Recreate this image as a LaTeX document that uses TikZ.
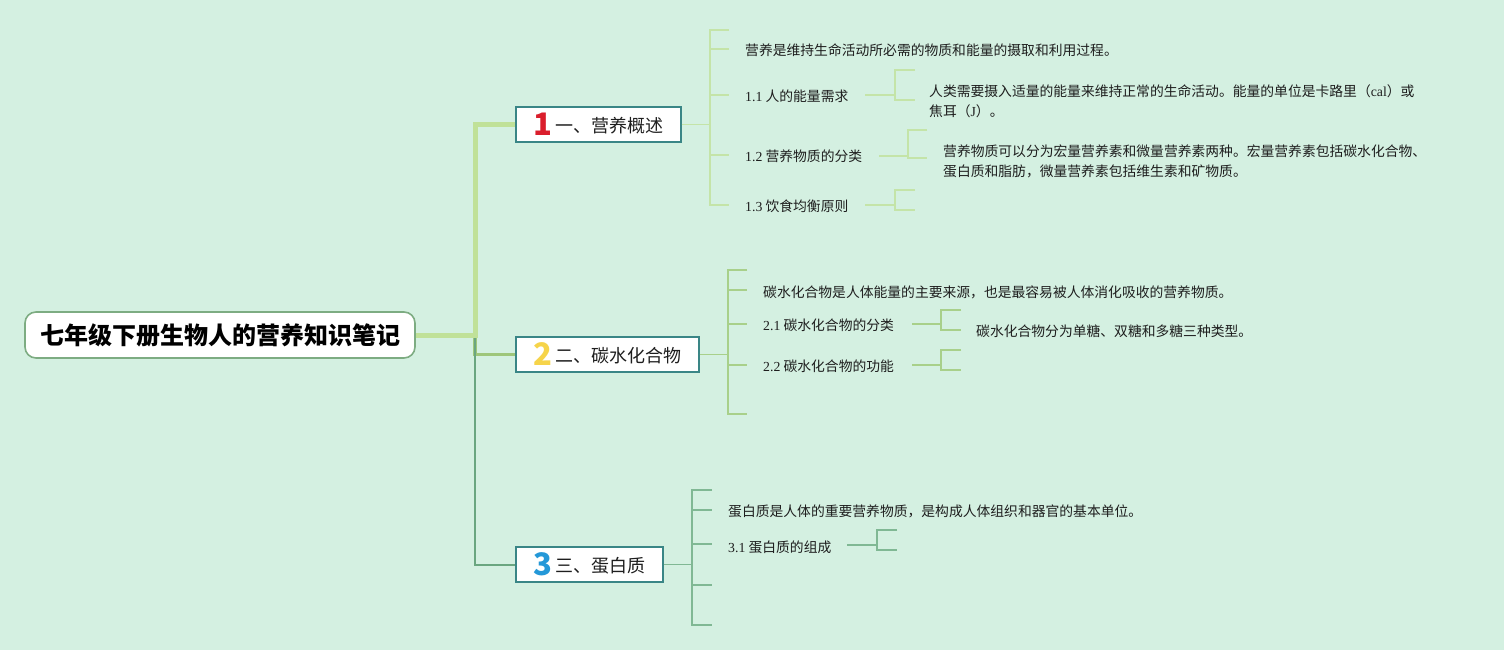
\documentclass[tikz,border=0pt]{standalone}
\usepackage{fontspec}
\setmainfont{Noto Sans CJK SC}
\newfontfamily\latf{Liberation Serif}
\newcommand\mylat[1]{{\latf #1}}
\definecolor{bgc}{RGB}{212,240,225}
\definecolor{rootc}{RGB}{125,172,130}
\definecolor{boxc}{RGB}{58,134,134}
\definecolor{m1c}{RGB}{192,225,152}
\definecolor{m2c}{RGB}{158,198,122}
\definecolor{m3c}{RGB}{106,166,128}
\definecolor{s1c}{RGB}{196,228,168}
\definecolor{s2c}{RGB}{168,208,138}
\definecolor{s3c}{RGB}{128,184,148}
\definecolor{n1c}{RGB}{218,30,44}
\definecolor{n2c}{RGB}{246,212,74}
\definecolor{n3c}{RGB}{36,152,216}
\definecolor{txtc}{RGB}{30,30,30}
\newcommand\mybrk[8]{%
  \coordinate (#1s) at (#2,#5);
  \coordinate (#1j) at (#3,#5);
  \coordinate (#1t) at (#3,#6);
  \coordinate (#1b) at (#3,#7);
  \coordinate (#1te) at (#4,#6);
  \coordinate (#1be) at (#4,#7);
  \draw[#8] (#1s) -- (#1j);
  \draw[#8] (#1te) -- (#1t) -- (#1b) -- (#1be);
}
\tikzset{
  rootbox/.style={draw=rootc, line width=1.6pt, fill=white, rounded corners=11pt,
    minimum width=390pt, minimum height=46pt, inner sep=0pt,
    font=\bfseries\fontsize{24}{24}\selectfont, text=black},
  brbox/.style={draw=boxc, line width=1.6pt, fill=white, anchor=west,
    minimum height=35pt, inner sep=0pt, font=\fontsize{18}{18}\selectfont, text=txtc},
  txt/.style={anchor=west, inner sep=0pt, font=\fontsize{13.8}{20}\selectfont, text=txtc, align=left},
  m1/.style={draw=m1c, line width=5pt},
  m2/.style={draw=m2c, line width=3.5pt},
  m3/.style={draw=m3c, line width=2pt},
  s1/.style={draw=s1c, line width=1.5pt},
  s2/.style={draw=s2c, line width=1.5pt},
  s3/.style={draw=s3c, line width=1.5pt},
}
\begin{document}
\begin{tikzpicture}[x=1pt,y=-1pt]
\fill[bgc] (0,0) rectangle (1504,650);
\useasboundingbox (0,0) rectangle (1504,650);

% main nodes
\node[rootbox] (root) at (220,335) {七年级下册生物人的营养知识笔记};
\node[brbox, minimum width=165pt] (b1) at (515,124.5)
  {\raisebox{-3pt}{\textcolor{n1c}{\bfseries\fontsize{31}{31}\selectfont 1}}\hspace{3pt}一、营养概述};
\node[brbox, minimum width=183pt] (b2) at (515,354.5)
  {\raisebox{-3pt}{\textcolor{n2c}{\bfseries\fontsize{31}{31}\selectfont 2}}\hspace{3pt}二、碳水化合物};
\node[brbox, minimum width=147pt] (b3) at (515,564.5)
  {\raisebox{-3pt}{\textcolor{n3c}{\bfseries\fontsize{31}{31}\selectfont 3}}\hspace{3pt}三、蛋白质};

% main connectors
\coordinate (jm) at (475,335);
\draw[m2] (root.east) -- (jm) |- (b2.west);
\draw[m3] (root.east) -- (jm) |- (b3.west);
\draw[m1] (root.east) -- (jm) |- (b1.west);

% branch 1 fan
\coordinate (f1j) at (710,124.5);
\draw[s1] (b1.east) -- (f1j);
\coordinate (f1t) at (710,30);
\coordinate (f1b) at (710,205);
\coordinate (f1te) at (729,30);
\coordinate (f1be) at (729,205);
\draw[s1] (f1te) -- (f1t) -- (f1b) -- (f1be);
\foreach \n/\y in {a/49,b/95,c/155}{
  \coordinate (f1\n s) at (710,\y);
  \coordinate (f1\n e) at (729,\y);
  \draw[s1] (f1\n s) -- (f1\n e);
}
\node[txt] (t10) at (745,50) {营养是维持生命活动所必需的物质和能量的摄取和利用过程。};
\node[txt] (t11) at (745,96) {\mylat{1.1} 人的能量需求};
\node[txt] (t12) at (745,156) {\mylat{1.2} 营养物质的分类};
\node[txt] (t13) at (745,206) {\mylat{1.3} 饮食均衡原则};
\mybrk{k11}{865}{895}{915}{95}{70}{100}{s1}
\mybrk{k12}{879}{908}{927}{156}{130}{158}{s1}
\mybrk{k13}{865}{895}{915}{205}{190}{210}{s1}
\node[txt] (t11a) at (929,101) {人类需要摄入适量的能量来维持正常的生命活动。能量的单位是卡路里（\mylat{cal}）或\\焦耳（\mylat{J}）。};
\node[txt] (t12a) at (943,161) {营养物质可以分为宏量营养素和微量营养素两种。宏量营养素包括碳水化合物、\\蛋白质和脂肪，微量营养素包括维生素和矿物质。};

% branch 2 fan
\coordinate (f2j) at (728,354.5);
\draw[s2] (b2.east) -- (f2j);
\coordinate (f2t) at (728,270);
\coordinate (f2b) at (728,414);
\coordinate (f2te) at (747,270);
\coordinate (f2be) at (747,414);
\draw[s2] (f2te) -- (f2t) -- (f2b) -- (f2be);
\foreach \n/\y in {a/290,b/324,c/365}{
  \coordinate (f2\n s) at (728,\y);
  \coordinate (f2\n e) at (747,\y);
  \draw[s2] (f2\n s) -- (f2\n e);
}
\node[txt] (t20) at (763,292) {碳水化合物是人体能量的主要来源，也是最容易被人体消化吸收的营养物质。};
\node[txt] (t21) at (763,325) {\mylat{2.1} 碳水化合物的分类};
\node[txt] (t22) at (763,366) {\mylat{2.2} 碳水化合物的功能};
\mybrk{k21}{912}{941}{961}{324}{310}{330}{s2}
\mybrk{k22}{912}{941}{961}{365}{350}{370}{s2}
\node[txt] (t21a) at (976,331) {碳水化合物分为单糖、双糖和多糖三种类型。};

% branch 3 fan
\coordinate (f3j) at (692,564.5);
\draw[s3] (b3.east) -- (f3j);
\coordinate (f3t) at (692,490);
\coordinate (f3b) at (692,625);
\coordinate (f3te) at (712,490);
\coordinate (f3be) at (712,625);
\draw[s3] (f3te) -- (f3t) -- (f3b) -- (f3be);
\foreach \n/\y in {a/510,b/544,c/585}{
  \coordinate (f3\n s) at (692,\y);
  \coordinate (f3\n e) at (712,\y);
  \draw[s3] (f3\n s) -- (f3\n e);
}
\node[txt] (t30) at (728,511) {蛋白质是人体的重要营养物质，是构成人体组织和器官的基本单位。};
\node[txt] (t31) at (728,547) {\mylat{3.1} 蛋白质的组成};
\mybrk{k31}{847}{877}{897}{545}{530}{550}{s3}
\end{tikzpicture}
\end{document}
